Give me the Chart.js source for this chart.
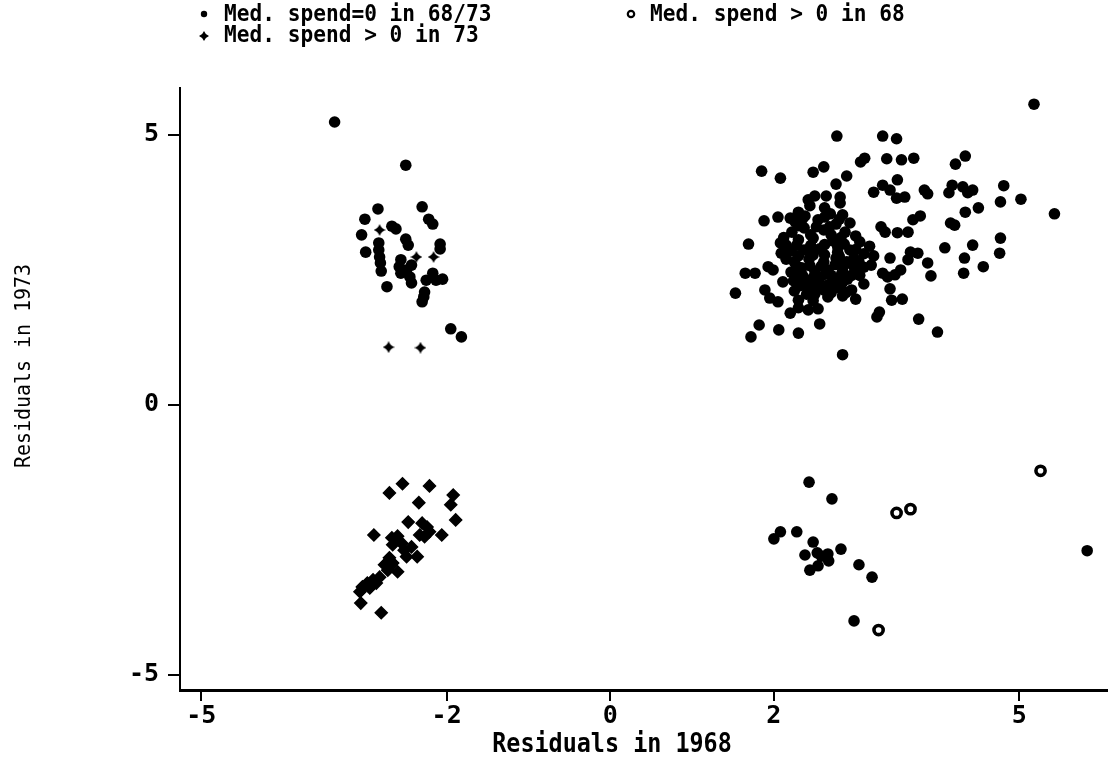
<!DOCTYPE html>
<html lang="en">
  <head>
    <meta charset="utf-8"/>
    <script src="https://cdn.jsdelivr.net/npm/chart.js@4/dist/chart.umd.min.js"></script>
    <style>
      html, body { margin: 0; padding: 0; background: #fff; }
      #plot-box { width: 1115px; height: 776px; position: relative; }
    </style>
  </head>
  <body>
    <div id="plot-box">
      <canvas id="residPlot"></canvas>
    </div>

<script>
// residuals 1968 (x) against residuals 1973 (y)
const labelZeroBoth = 'Med. spend=0 in 68/73';
const labelSpend73 = 'Med. spend > 0 in 73';
const labelSpend68 = 'Med. spend > 0 in 68';

const xTickValues = [-5, -2, 0, 2, 5];
const yTickValues = [-5, 0, 5];

// filled dots
const zeroBoth = [
    // left, upper group
    [-3.37, 5.24], [-2.50, 4.44], [-2.84, 3.63], [-2.30, 3.67], [-3.00, 3.44], [-2.22, 3.44],
    [-2.17, 3.35], [-2.67, 3.31], [-2.62, 3.26], [-3.04, 3.15], [-2.50, 3.07], [-2.47, 2.96],
    [-2.08, 2.98], [-2.08, 2.89], [-2.83, 3.00], [-2.83, 2.87], [-2.82, 2.74], [-2.81, 2.63],
    [-2.80, 2.48], [-2.99, 2.83], [-2.56, 2.69], [-2.58, 2.56], [-2.56, 2.44], [-2.49, 2.50],
    [-2.43, 2.59], [-2.45, 2.37], [-2.43, 2.26], [-2.25, 2.31], [-2.17, 2.44], [-2.13, 2.31],
    [-2.05, 2.33], [-2.73, 2.19], [-2.27, 2.09], [-2.28, 2.00], [-2.30, 1.91], [-1.95, 1.41],
    [-1.82, 1.26],
    // right, upper group
    [5.18, 5.57], [2.77, 4.98], [3.33, 4.98], [3.50, 4.93], [3.06, 4.50], [3.11, 4.57],
    [3.38, 4.56], [3.56, 4.54], [3.71, 4.57], [4.34, 4.61], [4.22, 4.46], [1.85, 4.33],
    [2.08, 4.20], [2.48, 4.31], [2.61, 4.41], [2.89, 4.24], [2.76, 4.09], [3.51, 4.17],
    [3.22, 3.94], [3.33, 4.07], [3.42, 3.98], [3.50, 3.83], [3.60, 3.85], [3.84, 3.98],
    [3.88, 3.91], [4.18, 4.07], [4.14, 3.93], [4.31, 4.04], [4.37, 3.93], [4.43, 3.98],
    [4.81, 4.06], [4.77, 3.76], [5.02, 3.81], [5.43, 3.54], [4.50, 3.65], [4.34, 3.57],
    [4.16, 3.37], [4.21, 3.33], [3.79, 3.50], [3.70, 3.43], [3.51, 3.19], [3.64, 3.20],
    [3.31, 3.30], [3.36, 3.20], [4.77, 3.09], [4.76, 2.81], [4.43, 2.96], [4.09, 2.91],
    [4.33, 2.72], [4.56, 2.56], [4.32, 2.44], [3.88, 2.63], [3.92, 2.39], [3.76, 2.81],
    [3.67, 2.83], [3.64, 2.69], [3.55, 2.50], [3.48, 2.41], [3.39, 2.37], [3.33, 2.44],
    [3.42, 2.72], [3.42, 2.15], [3.44, 1.94], [3.57, 1.96], [3.29, 1.72], [3.26, 1.63],
    [3.77, 1.59], [4.00, 1.35], [2.84, 0.93], [1.72, 1.26], [1.82, 1.48], [2.06, 1.39],
    [2.30, 1.33], [2.56, 1.50], [2.20, 1.70], [2.30, 1.80], [2.42, 1.76], [2.54, 1.78],
    [1.53, 2.07], [1.65, 2.44], [1.77, 2.44], [1.69, 2.98], [1.88, 3.41], [2.05, 3.48],
    [2.20, 3.46], [1.89, 2.13], [1.95, 1.98], [2.05, 1.91], [1.93, 2.56], [1.99, 2.50],
    [2.11, 2.28], [2.08, 3.00], [2.15, 2.96], [2.09, 2.81], [2.42, 3.80], [2.50, 3.87],
    [2.64, 3.87], [2.81, 3.85], [2.81, 3.74], [2.62, 3.65],
    // right, upper group, dense core
    [2.30, 3.57], [2.44, 3.69], [2.69, 3.54], [2.84, 3.52],
    [2.26, 3.39], [2.54, 3.43], [2.76, 3.35], [2.93, 3.37],
    [2.22, 3.20], [2.37, 3.28], [2.61, 3.24], [2.87, 3.20], [3.00, 3.13],
    [2.30, 3.06], [2.48, 3.09], [2.72, 3.04], [2.86, 2.98], [3.05, 3.02], [3.17, 2.94],
    [2.21, 2.85], [2.37, 2.87], [2.56, 2.89], [2.78, 2.83], [2.93, 2.87], [3.10, 2.80], [3.22, 2.76],
    [2.25, 2.65], [2.43, 2.70], [2.61, 2.65], [2.76, 2.72], [2.89, 2.65], [3.04, 2.65], [3.19, 2.59],
    [2.21, 2.46], [2.34, 2.54], [2.50, 2.48], [2.66, 2.50], [2.84, 2.48], [3.00, 2.50],
    [2.24, 2.30], [2.39, 2.28], [2.56, 2.35], [2.73, 2.31], [2.90, 2.33], [3.10, 2.24],
    [2.25, 2.11], [2.42, 2.15], [2.61, 2.13], [2.78, 2.17], [2.95, 2.13],
    [2.30, 1.94], [2.48, 1.93], [2.66, 2.00], [2.84, 2.02], [3.00, 1.96],
    [2.35, 3.45], [2.52, 3.30], [2.70, 3.15], [2.45, 2.95], [2.62, 2.78], [2.98, 2.72],
    [2.35, 2.40], [2.55, 2.20], [2.70, 2.40], [2.85, 2.58], [2.40, 2.05], [2.95, 2.40],
    [3.10, 2.55], [2.15, 2.70], [2.12, 3.10],
    [2.38, 3.50], [2.62, 3.48], [2.80, 3.44], [2.30, 3.32], [2.45, 3.15], [2.68, 3.30],
    [2.82, 3.10], [2.28, 2.96], [2.62, 2.97], [2.78, 2.93], [3.00, 2.88], [2.30, 2.76],
    [2.48, 2.78], [2.80, 2.75], [2.97, 2.58], [2.28, 2.57], [2.44, 2.58], [2.58, 2.57],
    [2.75, 2.60], [2.30, 2.40], [2.48, 2.36], [2.63, 2.42], [2.82, 2.40], [3.05, 2.40],
    [2.32, 2.21], [2.48, 2.23], [2.66, 2.22], [2.83, 2.25], [2.50, 2.05], [2.70, 2.08],
    [2.88, 2.08],
    // right, lower group
    [2.43, -1.43], [2.71, -1.74], [2.08, -2.35], [2.00, -2.48], [2.28, -2.35], [2.48, -2.54],
    [2.38, -2.78], [2.53, -2.74], [2.58, -2.80], [2.66, -2.76], [2.67, -2.89], [2.82, -2.67],
    [2.54, -2.98], [2.44, -3.06], [3.04, -2.96], [3.20, -3.19], [2.98, -4.00], [5.83, -2.70]
];

// pluses
const spend73 = [
    [-2.82, 3.24], [-2.37, 2.74], [-2.16, 2.74], [-2.71, 1.07], [-2.32, 1.06],
    [-2.54, -1.46], [-2.70, -1.63], [-2.21, -1.50], [-1.92, -1.67], [-1.95, -1.85], [-2.34, -1.81],
    [-2.47, -2.17], [-1.89, -2.13], [-2.30, -2.19], [-2.24, -2.26], [-2.21, -2.35], [-2.27, -2.44],
    [-2.33, -2.41], [-2.06, -2.41], [-2.89, -2.41], [-2.67, -2.46], [-2.60, -2.43], [-2.55, -2.56],
    [-2.66, -2.59], [-2.52, -2.69], [-2.43, -2.63], [-2.36, -2.81], [-2.49, -2.81], [-2.70, -2.83],
    [-2.76, -2.96], [-2.66, -2.93], [-2.60, -3.09], [-2.72, -3.06], [-2.82, -3.19], [-2.90, -3.24],
    [-2.97, -3.30], [-3.03, -3.37], [-2.86, -3.30], [-2.94, -3.39], [-3.06, -3.46], [-3.05, -3.67],
    [-2.80, -3.85]
];

// open circles
const spend68 = [
    [3.50, -2.00], [3.67, -1.93], [5.26, -1.22], [3.28, -4.17]
];

const toPoints = (arr) => arr.map( (p) => ({ x: p[0], y: p[1] }) );

// little four pointed star used for the plus marker
function makeStar( size ) {
    const c = document.createElement('canvas');
    c.width = size;
    c.height = size;
    const g = c.getContext('2d');
    const m = size / 2;
    const k = size * 0.13;
    g.fillStyle = '#000';
    g.beginPath();
    g.moveTo(m, 0);
    g.quadraticCurveTo(m + k, m - k, size, m);
    g.quadraticCurveTo(m + k, m + k, m, size);
    g.quadraticCurveTo(m - k, m + k, 0, m);
    g.quadraticCurveTo(m - k, m - k, m, 0);
    g.fill();
    return c;
}
const starImg = makeStar(12);
const starSmall = makeStar(10);

const fontMono = "'DejaVu Sans Mono', 'Liberation Mono', monospace";

// text squeezed a little sideways, taller letters at the same width
function narrowText( g, text, x, y, sx ) {
    g.save();
    g.translate(x, y);
    g.scale(sx, 1);
    g.fillText(text, 0, 0);
    g.restore();
}

const legendPlugin = {
    id: 'topLegend',
    afterDraw(chart) {
        const g = chart.ctx;
        g.save();
        g.fillStyle = '#000';
        g.strokeStyle = '#000';
        g.font = 'bold 23px ' + fontMono;
        g.textBaseline = 'middle';
        g.textAlign = 'left';

        // filled dot
        g.beginPath();
        g.arc(204, 14, 3.2, 0, Math.PI * 2);
        g.fill();
        narrowText(g, labelZeroBoth, 224, 15, 0.92);

        // plus
        g.drawImage(starSmall, 199, 31);
        narrowText(g, labelSpend73, 224, 36, 0.92);

        // ring
        g.lineWidth = 2.2;
        g.beginPath();
        g.arc(631, 14, 3.2, 0, Math.PI * 2);
        g.stroke();
        narrowText(g, labelSpend68, 650, 15, 0.92);

        // axis titles
        g.font = 'bold 26px ' + fontMono;
        g.textAlign = 'center';
        narrowText(g, 'Residuals in 1968', 612, 745, 0.9);

        g.font = '21px ' + fontMono;
        g.translate(25, 366);
        g.rotate(-Math.PI / 2);
        narrowText(g, 'Residuals in 1973', 0, 0, 0.95);
        g.restore();
    }
};

let ctx = document.getElementById('residPlot').getContext('2d');
let residChart = new Chart(ctx, {
    type: 'scatter',
    data: {
        datasets: [
            {
                label: labelZeroBoth,
                data: toPoints(zeroBoth),
                pointStyle: 'circle',
                pointRadius: 5.8,
                pointBackgroundColor: '#000',
                pointBorderColor: '#000',
                pointBorderWidth: 0,
            },
            {
                label: labelSpend73,
                data: toPoints(spend73),
                pointStyle: (c) => (c.raw && c.raw.y < 0) ? 'rectRot' : starImg,
                pointRadius: 6,
                pointBackgroundColor: '#000',
                pointBorderColor: '#000',
                pointBorderWidth: 1.5,
            },
            {
                label: labelSpend68,
                data: toPoints(spend68),
                pointStyle: 'circle',
                pointRadius: 4.6,
                pointBackgroundColor: '#fff',
                pointBorderColor: '#000',
                pointBorderWidth: 3.6,
            },
        ]
    },
    options: {
        responsive: true,
        maintainAspectRatio: false,
        animation: false,
        events: [],
        layout: { padding: { top: 88, right: 5, left: 0, bottom: 0 } },
        plugins: {
            legend: { display: false },
            tooltip: { enabled: false },
        },
        scales: {
            x: {
                type: 'linear',
                min: -5.26,
                max: 6.07,
                afterFit: (s) => { s.height = 86; },
                afterBuildTicks: (s) => { s.ticks = xTickValues.map( (v) => ({ value: v }) ); },
                grid: {
                    drawOnChartArea: false,
                    drawTicks: true,
                    tickLength: 11,
                    color: '#000',
                    lineWidth: 2,
                },
                border: { display: true, color: '#000', width: 3 },
                ticks: {
                    color: '#000',
                    padding: 0,
                    maxRotation: 0,
                    font: { family: fontMono, size: 25, weight: 'bold' },
                },
            },
            y: {
                type: 'linear',
                min: -5.28,
                max: 5.87,
                afterFit: (s) => { s.width = 180; },
                afterBuildTicks: (s) => { s.ticks = yTickValues.map( (v) => ({ value: v }) ); },
                grid: {
                    drawOnChartArea: false,
                    drawTicks: true,
                    tickLength: 12,
                    color: '#000',
                    lineWidth: 2,
                },
                border: { display: true, color: '#000', width: 2 },
                ticks: {
                    color: '#000',
                    padding: 9,
                    font: { family: fontMono, size: 25, weight: 'bold' },
                },
            },
        },
    },
    plugins: [legendPlugin],
});
</script>
  </body>
</html>
